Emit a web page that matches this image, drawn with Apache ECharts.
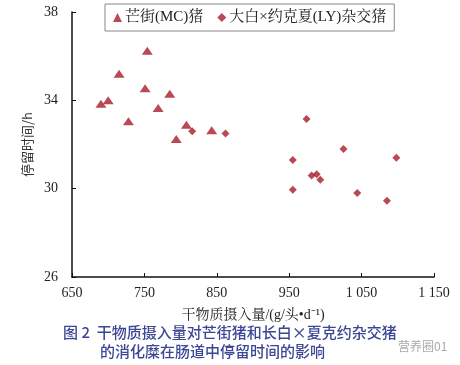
<!DOCTYPE html>
<html><head><meta charset="utf-8">
<script src="https://cdn.jsdelivr.net/npm/echarts@6/dist/echarts.min.js"></script>
<style>html,body{margin:0;padding:0;background:#fff}#c{width:460px;height:365px}</style>
</head><body><div id="c"></div>
<script>
var seriesNames = ['芒街(MC)猪', '大白×约克夏(LY)杂交猪'];
var mcX = [754, 715, 751, 785, 690, 700, 769, 728, 808, 794, 843];
var mcY = [36.25, 35.2, 34.55, 34.3, 33.85, 34.0, 33.65, 33.05, 32.9, 32.25, 32.65];
var lyX = [816, 862, 974, 1025, 955, 1098, 981, 988, 993, 955, 1044, 1085];
var lyY = [32.6, 32.5, 33.15, 31.8, 31.3, 31.4, 30.6, 30.65, 30.4, 29.95, 29.8, 29.45];
var xTicks = [650, 750, 850, 950, 1050, 1150];
var yTicks = [26, 30, 34, 38];
var xName = '干物质摄入量/(g/头•d⁻¹)';
var yName = '停留时间/h';
var caption1 = '图 2  干物质摄入量对芒街猪和长白×夏克约杂交猪';
var caption2 = '的消化糜在肠道中停留时间的影响';

function pairs(xs, ys){ return xs.map(function(x,i){ return [x, ys[i]]; }); }
function fmtNum(v){ var s = String(v); return v >= 1000 ? s.slice(0, s.length-3) + ' ' + s.slice(-3) : s; }

var red = '#a81b2b';
var serif = '"Liberation Serif","Noto Serif CJK SC","Noto Sans CJK SC",serif';
var chart = echarts.init(document.getElementById('c'));
chart.setOption({
  animation: false,
  backgroundColor: '#fff',
  grid: {left: 72, right: 26, top: 12, bottom: 88},
  legend: {
    data: [{name: seriesNames[0], icon: 'triangle'}, {name: seriesNames[1], icon: 'diamond'}],
    left: 105, top: 4, width: 287, height: 28,
    padding: [6, 8, 6, 8],
    borderColor: '#888', borderWidth: 1,
    itemWidth: 9, itemHeight: 9, itemGap: 14,
    textStyle: {fontFamily: serif, fontSize: 15, color: '#222', padding: [0,0,0,-2]}
  },
  xAxis: {
    type: 'value', min: xTicks[0], max: xTicks[xTicks.length-1], interval: 100,
    name: xName, nameLocation: 'middle', nameGap: 31,
    nameTextStyle: {fontFamily: serif, fontSize: 14, color: '#222'},
    axisLine: {lineStyle: {color: '#111', width: 1.5}},
    axisTick: {inside: true, length: 4, lineStyle: {color: '#111'}},
    axisLabel: {fontFamily: serif, fontSize: 14, color: '#222', margin: 9, formatter: fmtNum},
    splitLine: {show: false}
  },
  yAxis: {
    type: 'value', min: yTicks[0], max: yTicks[yTicks.length-1], interval: 4,
    name: yName, nameLocation: 'middle', nameGap: 38, nameRotate: 90,
    nameTextStyle: {fontFamily: '"Noto Sans CJK SC",sans-serif', fontSize: 13, color: '#333'},
    axisLine: {show: true, lineStyle: {color: '#111', width: 1.5}},
    axisTick: {show: true, inside: true, length: 4, lineStyle: {color: '#111'}},
    axisLabel: {fontFamily: serif, fontSize: 14, color: '#222', margin: 14},
    splitLine: {show: false}
  },
  series: [
    {name: seriesNames[0], type: 'scatter', symbol: 'triangle', symbolSize: [11, 8],
     itemStyle: {color: red}, data: pairs(mcX, mcY)},
    {name: seriesNames[1], type: 'scatter', symbol: 'diamond', symbolSize: [8, 8],
     itemStyle: {color: red}, data: pairs(lyX, lyY)}
  ],
  graphic: [
    {type: 'text', left: 63, top: 325, style: {text: caption1, font: '500 15px "Noto Sans CJK SC",sans-serif', fill: '#3b4795'}},
    {type: 'text', left: 100, top: 344, style: {text: caption2, font: '500 15px "Noto Sans CJK SC",sans-serif', fill: '#3b4795'}},
    {type: 'text', left: 398, top: 340, style: {text: '营养圈01', font: '12px "Noto Sans CJK SC",sans-serif', fill: '#aaa'}}
  ]
});
</script></body></html>
